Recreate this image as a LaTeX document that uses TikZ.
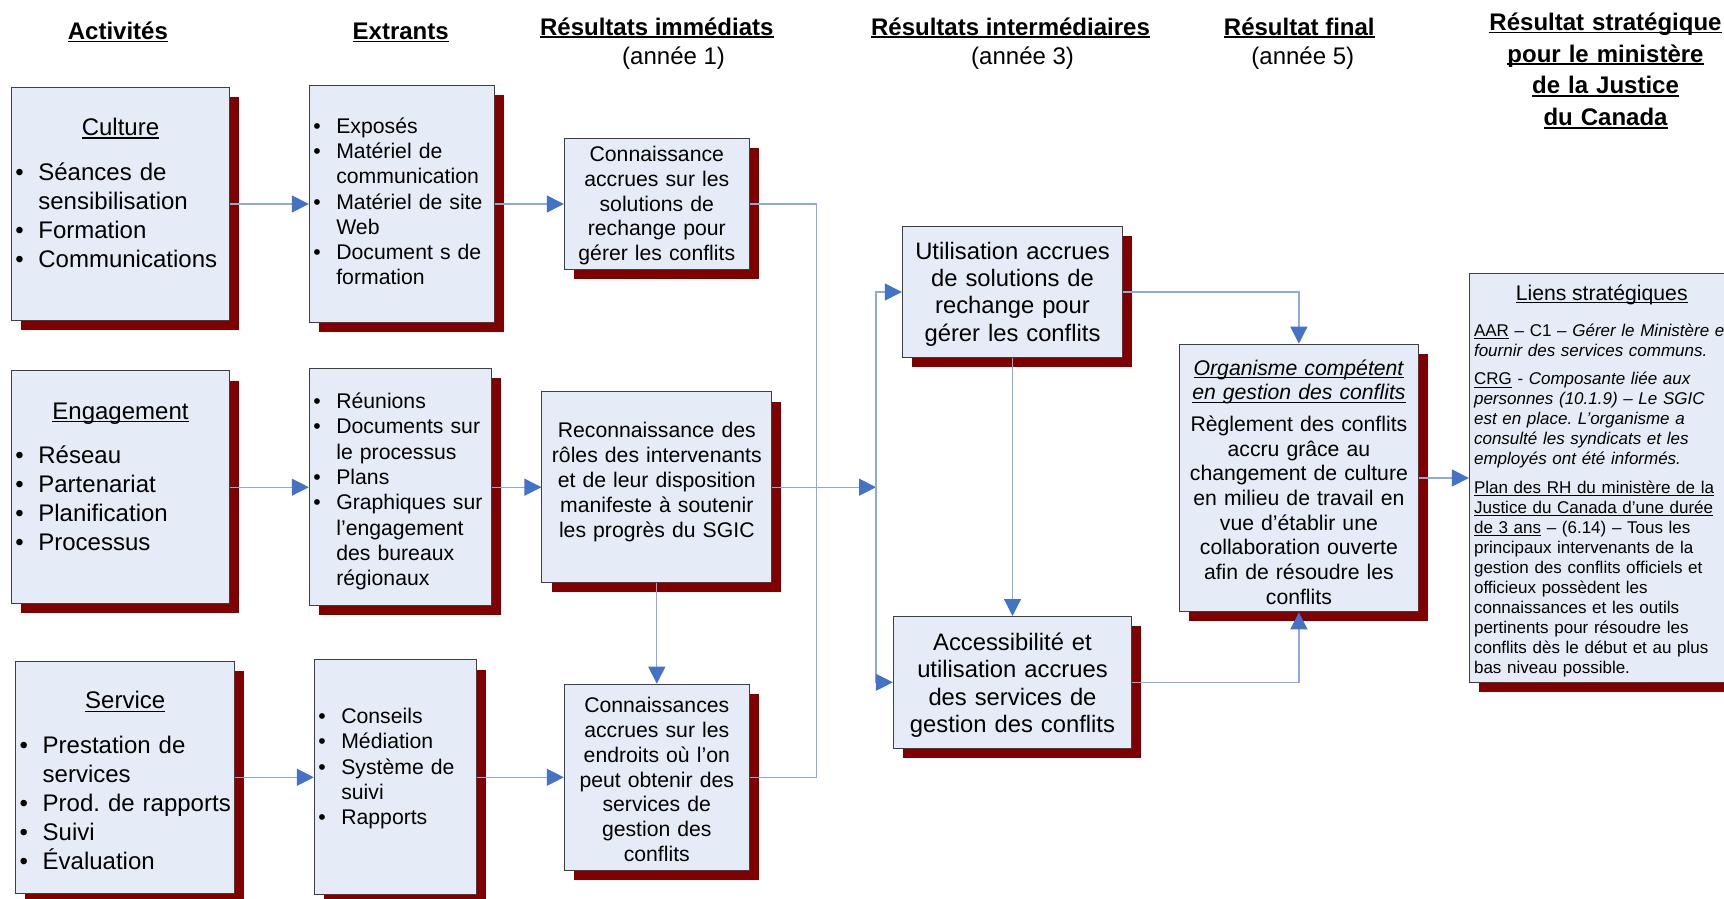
\documentclass[tikz,border=0pt]{standalone}
\usepackage{fontspec}
\setmainfont{Liberation Sans}
\usetikzlibrary{arrows.meta,shadows}
\frenchspacing

\definecolor{boxfill}{HTML}{E6ECF7}
\definecolor{boxline}{HTML}{3F3F3F}
\definecolor{shadowred}{HTML}{800000}
\definecolor{linkblue}{HTML}{8EAADB}
\definecolor{tipblue}{HTML}{4472C4}

\newlength{\uldepth}\setlength{\uldepth}{1.5pt}
\newcommand{\ulthick}{0.6pt}
\newcommand{\uline}[1]{\leavevmode\setbox0=\hbox{#1}\rlap{\rule[-\uldepth]{\wd0}{\ulthick}}\box0\relax}
\newcommand{\headul}[1]{{\renewcommand{\ulthick}{0.9pt}\uline{#1}}}
\newlength{\bulind}\setlength{\bulind}{13.5pt}
\newcommand{\bitem}[1]{\noindent\hangindent=\bulind\hangafter=1\relax
  \hbox to\bulind{\hspace{2pt}\textbullet\hfil}#1\par}

\tikzset{
  box/.style={draw=boxline, fill=boxfill, line width=0.5pt, inner sep=0pt,
    drop shadow={shadow xshift=4.8pt, shadow yshift=-4.8pt, fill=shadowred, opacity=1}},
  headtxt/.style={anchor=base, inner sep=0pt, align=center,
    font=\bfseries\fontsize{12}{15.85}\selectfont},
  yeartxt/.style={anchor=base, inner sep=0pt, font=\fontsize{12}{14}\selectfont},
  bigtxt/.style={anchor=base, inner sep=0pt, align=left, font=\fontsize{12}{14.5}\selectfont},
  listtxt/.style={anchor=base, inner sep=0pt, align=left, font=\fontsize{10.6}{12.65}\selectfont},
  smalltxt/.style={inner sep=0pt, yshift=-1.5pt, align=center, font=\fontsize{10.6}{12.35}\selectfont},
  midtxt/.style={inner sep=0pt, yshift=-1.5pt, align=center, font=\fontsize{11.9}{13.7}\selectfont},
  tinytxt/.style={anchor=base, inner sep=0pt, align=left, font=\fontsize{8.5}{10}\selectfont},
  link/.style={draw=linkblue, line width=0.6pt},
  arr/.style={link, -{Triangle[length=8.5pt, width=8.5pt, color=tipblue]}},
}

\begin{document}
\begin{tikzpicture}[x=0.5pt, y=-0.5pt]
    \useasboundingbox (0,0) rectangle (1724,899);
    \clip (0,0) rectangle (1724,899);

% headings
    \node[headtxt] (hAct) at (117.9,39.5) {\headul{Activités}};
    \node[headtxt] (hExt) at (400.7,39.5) {\headul{Extrants}};
    \node[headtxt] (hImm) at (656.8,35.2) {\headul{Résultats immédiats}};
    \node[yeartxt] (yImm) at (673.6,65) {(année 1)};
    \node[headtxt] (hInt) at (1010.5,35.2) {\headul{Résultats intermédiaires}};
    \node[yeartxt] (yInt) at (1022.6,65) {(année 3)};
    \node[headtxt] (hFin) at (1299.3,35.2) {\headul{Résultat final}};
    \node[yeartxt] (yFin) at (1302.8,65) {(année 5)};
    \node[headtxt, text width=122pt] (hStr) at (1605.5,30.5)
        {\headul{Résultat stratégique}\\\headul{pour le ministère}\\\headul{de la Justice}\\\headul{du Canada}};

% activities
    \node[box, minimum width=109.1pt, minimum height=116.4pt] (culture) at (120.5,204) {};
    \node[box, minimum width=109.1pt, minimum height=116.3pt] (engage) at (120.5,487.2) {};
    \node[box, minimum width=109.5pt, minimum height=116.3pt] (service) at (125.2,777.3) {};

    \node[bigtxt, text width=109.1pt] (cultureTxt) at (120.5,135.5)
        {{\centering\uline{Culture}\par}\vspace{7.9pt}%
         \bitem{Séances de\newline sensibilisation}\bitem{Formation}\bitem{Communications}};
    \node[bigtxt, text width=109.1pt] (engageTxt) at (120.5,419)
        {{\centering\uline{Engagement}\par}\vspace{7.9pt}%
         \bitem{Réseau}\bitem{Partenariat}\bitem{Planification}\bitem{Processus}};
    \node[bigtxt, text width=109.5pt] (serviceTxt) at (125.2,708.7)
        {{\centering\uline{Service}\par}\vspace{7.9pt}%
         \bitem{Prestation de\newline services}\bitem{Prod. de rapports}\bitem{Suivi}\bitem{Évaluation}};

% outputs
    \node[box, minimum width=92.35pt, minimum height=118.5pt] (extr1) at (401.7,204) {};
    \node[box, minimum width=90.85pt, minimum height=118.5pt] (extr2) at (400.2,487.2) {};
    \node[box, minimum width=80.85pt, minimum height=117.4pt] (extr3) at (395.2,777.3) {};

    \node[listtxt, text width=92.35pt] (extr1Txt) at (401.7,133.2)
        {\bitem{Exposés}\bitem{Matériel de\newline communication}\bitem{Matériel de site\newline Web}%
         \bitem{Document s de\newline formation}};
    \node[listtxt, text width=90.85pt] (extr2Txt) at (400.2,408.6)
        {\bitem{Réunions}\bitem{Documents sur\newline le processus}\bitem{Plans}%
         \bitem{Graphiques sur\newline l’engagement\newline des bureaux\newline régionaux}};
    \node[listtxt, text width=80.85pt] (extr3Txt) at (395.2,723.6)
        {\bitem{Conseils}\bitem{Médiation}\bitem{Système de\newline suivi}\bitem{Rapports}};

% immediate results
    \node[box, minimum width=92.5pt, minimum height=65.8pt] (conn1) at (656.8,204) {};
    \node[smalltxt, text width=92.5pt, yshift=0.6pt] (conn1Txt) at (conn1)
        {Connaissance\\accrues sur les\\solutions de\\rechange pour\\gérer les conflits};
    \node[box, minimum width=114.85pt, minimum height=95.3pt] (reconn) at (656.8,487.2) {};
    \node[smalltxt, anchor=base, yshift=0pt, text width=114.85pt, font=\fontsize{10.6}{12.45}\selectfont]
        (reconnTxt) at (656.8,434.8)
        {Reconnaissance des\\rôles des intervenants\\et de leur disposition\\manifeste à soutenir\\les progrès du SGIC};
    \node[box, minimum width=92.5pt, minimum height=93.1pt] (conn3) at (656.8,777.3) {};
    \node[smalltxt, text width=92.5pt, yshift=0.4pt] (conn3Txt) at (conn3)
        {Connaissances\\accrues sur les\\endroits où l’on\\peut obtenir des\\services de\\gestion des\\conflits};

% intermediate and final results
    \node[box, minimum width=110.2pt, minimum height=65.35pt] (util) at (1012.5,292) {};
    \node[midtxt, text width=110.2pt, yshift=0.5pt] (utilTxt) at (util)
        {Utilisation accrues\\de solutions de\\rechange pour\\gérer les conflits};
    \node[box, minimum width=119.2pt, minimum height=65.8pt] (acc) at (1012.5,682.3) {};
    \node[midtxt, text width=119.2pt] (accTxt) at (acc)
        {Accessibilité et\\utilisation accrues\\des services de\\gestion des conflits};
    \node[box, minimum width=119.3pt, minimum height=133.85pt] (final) at (1298.9,478) {};
    \node[smalltxt, text width=119.3pt, yshift=-0.5pt] (finalTxt) at (final)
        {\uline{\textit{Organisme compétent}}\\\uline{\textit{en gestion des conflits}}\par\vspace{3.5pt}%
         Règlement des conflits\\accru grâce au\\changement de culture\\en milieu de travail en\\vue d’établir une\\collaboration ouverte\\afin de résoudre les\\conflits};

% strategic links
    \node[box, minimum width=132.35pt, minimum height=204.1pt] (liens) at (1601.7,478) {};
    \node[tinytxt, text width=127.65pt] (liensTxt) at (1601.7,300)
        {{\centering\fontsize{10.6}{12}\selectfont\uline{Liens stratégiques}\par}\vspace{8.1pt}%
         \mbox{\uline{AAR} – C1 – \textit{Gérer le Ministère et}}\\
         \textit{fournir des services communs.}\par\vspace{4.3pt}%
         \uline{CRG} - \textit{Composante liée aux}\\
         \textit{personnes (10.1.9) – Le SGIC}\\
         \textit{est en place. L’organisme a}\\
         \textit{consulté les syndicats et les}\\
         \textit{employés ont été informés.}\par\vspace{4.3pt}%
         \uline{Plan des RH du ministère de la}\\
         \uline{Justice du Canada d’une durée}\\
         \uline{de 3 ans} – (6.14) – Tous les\\
         principaux intervenants de la\\
         gestion des conflits officiels et\\
         officieux possèdent les\\
         connaissances et les outils\\
         pertinents pour résoudre les\\
         conflits dès le début et au plus\\
         bas niveau possible.};

% connectors
    \coordinate (jA) at (816.7,487.2);
    \coordinate (jB) at (876,487.2);

    \draw[arr] (culture) -- (extr1);
    \draw[arr] (extr1) -- (conn1);
    \draw[arr] (engage) -- (extr2);
    \draw[arr] (extr2) -- (reconn);
    \draw[arr] (service) -- (extr3);
    \draw[arr] (extr3) -- (conn3);
    \draw[link] (conn1) -| (jA) |- (conn3);
    \draw[arr] (reconn) -- (jB);
    \draw[arr] (reconn) -- (conn3);
    \draw[arr] (jB) |- (util);
    \draw[arr] (jB) |- (acc);
    \draw[arr] (util) -- (acc);
    \draw[arr] (util) -| (final);
    \draw[arr] (acc) -| (final);
    \draw[arr] (final) -- (liens);
\end{tikzpicture}
\end{document}
